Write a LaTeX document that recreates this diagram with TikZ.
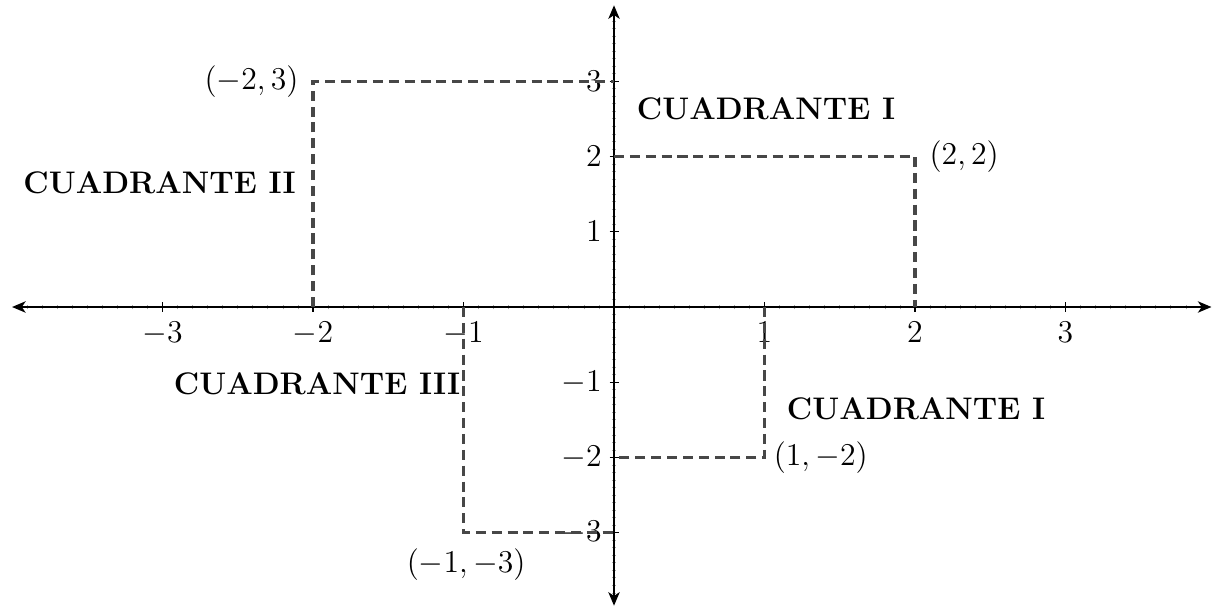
\documentclass[tikz,border=0pt]{standalone}
\usetikzlibrary{arrows.meta}
\begin{document}
\begin{tikzpicture}[x=2cm,y=1cm,
  axis/.style={line width=0.8pt,black,{Stealth[length=1.8mm,width=1.5mm,inset=0.5mm]}-{Stealth[length=1.8mm,width=1.5mm,inset=0.5mm]}},
  guide/.style={line width=1.3pt,black!72,dash pattern=on 3.8pt off 2.2pt},
  ticklab/.style={font=\fontsize{11.5}{13}\selectfont},
  ptlab/.style={font=\fontsize{11.5}{13}\selectfont},
  quad/.style={font=\fontsize{11.8}{14}\selectfont\bfseries},
  minor/.style={black!35,line width=0.3pt},
  major/.style={black,line width=0.5pt}]
\useasboundingbox (-4.08,-4.01) rectangle (4.0,4.08);
% minor ticks
\foreach \i in {-39,...,39}{
  \pgfmathparse{mod(abs(\i),10)==0 ? 1 : 0}
  \ifnum\pgfmathresult=0
    \draw[minor] (\i/10,-0.03) -- (\i/10,0.03);
    \draw[minor] (-0.015,\i/10) -- (0.015,\i/10);
  \fi
}
% axes
\coordinate (xl) at (-4,0); \coordinate (xr) at (3.97,0);
\coordinate (yb) at (0,-3.97); \coordinate (yt) at (0,4.01);
\draw[axis] (xl) -- (xr);
\draw[axis] (yb) -- (yt);
% major ticks and labels
\foreach \x in {-3,-2,-1,1,2,3}{
  \draw[major] (\x,-0.06) -- (\x,0.06);
  \node[ticklab,anchor=north] (tx\x) at (\x,-0.08) {$\x$};
}
\foreach \y in {-3,-2,-1,1,2,3}{
  \draw[major] (-0.03,\y) -- (0.03,\y);
  \node[ticklab,anchor=east] (ty\y) at (-0.02,\y) {$\y$};
}
% points
\coordinate (A) at (-2,3); \coordinate (Ax) at (-2,0); \coordinate (Ay) at (0,3);
\coordinate (B) at (2,2);  \coordinate (Bx) at (2,0);  \coordinate (By) at (0,2);
\coordinate (C) at (1,-2); \coordinate (Cx) at (1,0);  \coordinate (Cy) at (0,-2);
\coordinate (D) at (-1,-3);\coordinate (Dx) at (-1,0); \coordinate (Dy) at (0,-3);
\draw[guide] (Ax) -- (A) -- (Ay);
\draw[guide] (By) -- (B) -- (Bx);
\draw[guide] (Cx) -- (C) -- (Cy);
\draw[guide] (Dx) -- (D) -- (Dy);
\node[ptlab,anchor=east,xshift=-2pt] (lA) at (A) {$(-2,3)$};
\node[ptlab,anchor=west,xshift=2pt] (lB) at (B) {$(2,2)$};
\node[ptlab,anchor=west] (lC) at (C) {$(1,-2)$};
\node[ptlab,anchor=north,xshift=1pt,yshift=-2.5pt] (lD) at (D) {$(-1,-3)$};
% quadrant labels
\node[quad] (q1) at (1.01,2.64) {CUADRANTE I};
\node[quad] (q2) at (-3.02,1.65) {CUADRANTE II};
\node[quad] (q3) at (-1.973,-1.02) {CUADRANTE III};
\node[quad] (q4) at (2.007,-1.355) {CUADRANTE I};
\end{tikzpicture}
\end{document}
